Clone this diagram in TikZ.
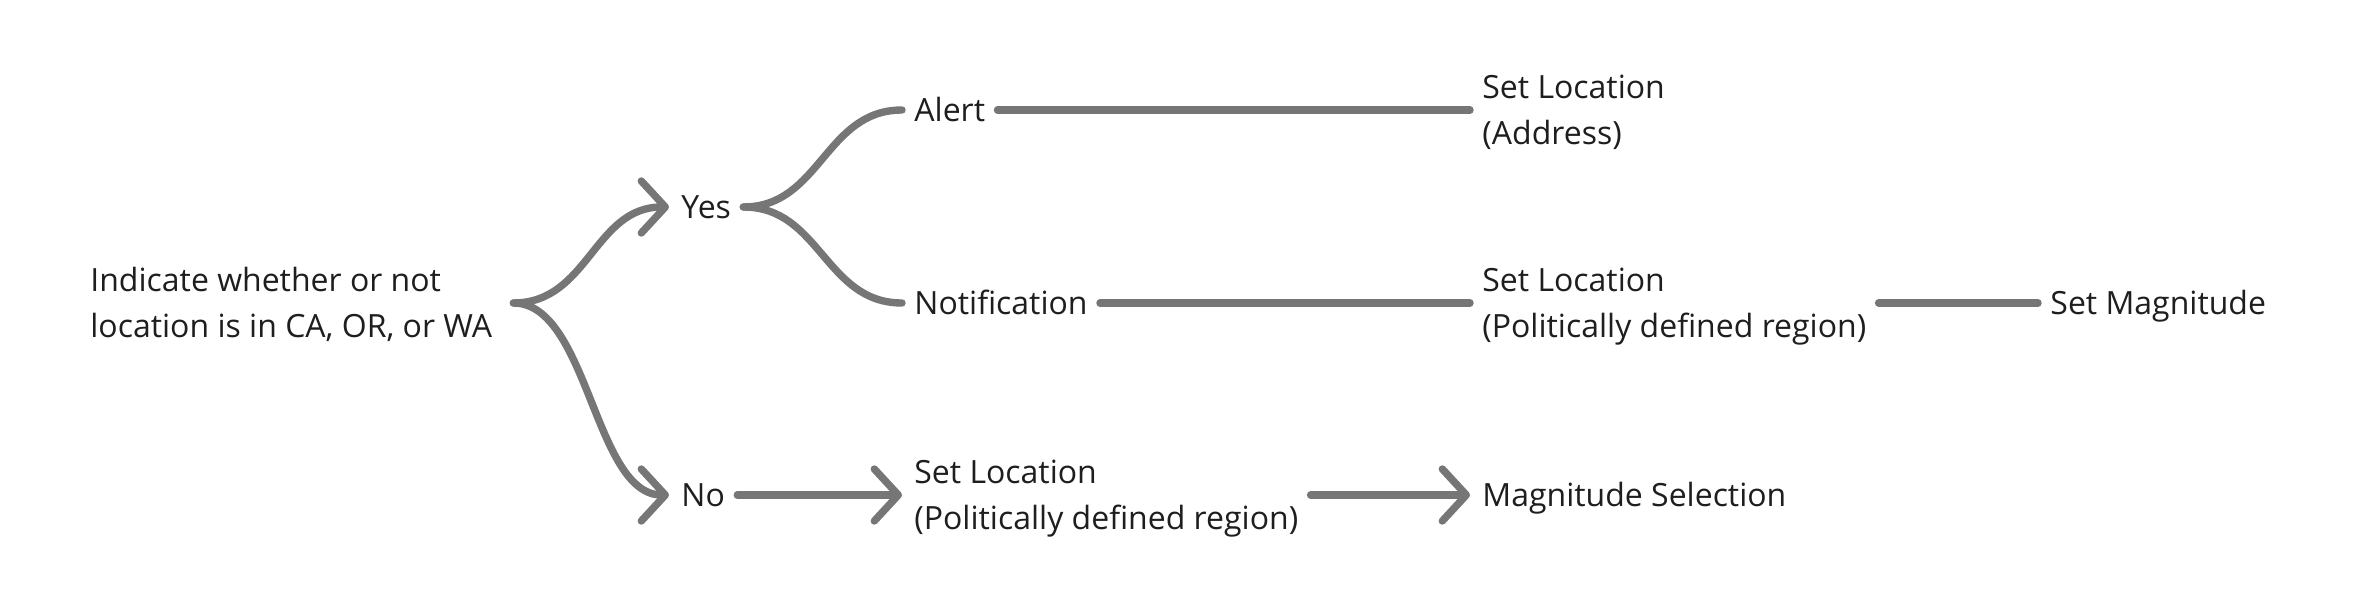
\documentclass[tikz,border=0pt]{standalone}
\usepackage{fontspec}
\setmainfont{Open Sans}
\usetikzlibrary{arrows.meta}
\definecolor{linegray}{HTML}{767676}
\definecolor{txt}{HTML}{1E1E1E}
\newcommand\mytopst{\rule{0pt}{15.3pt}}
\newcommand\mybotst{\rule[-4pt]{0pt}{4pt}}
\begin{document}
\begin{tikzpicture}[x=0.5pt,y=-0.5pt,
  lbl/.style={anchor=west, inner xsep=6pt, inner ysep=0pt, align=left, text=txt,
    font=\fontsize{16pt}{23.3pt}\selectfont},
  one/.style={lbl, text height=11.4pt, text depth=0pt},
  conn/.style={draw=linegray, line width=3.7pt, line cap=round, line join=round},
  tip/.style={-{Straight Barb[length=12pt,width=26pt,round]}}
]
\useasboundingbox (0,0) rectangle (2364,615);
\node[lbl] (root) at (78,303) {\mytopst Indicate whether or not\\location is in CA, OR, or WA\mybotst};
\node[one] (yes) at (669,207) {Yes};
\node[one] (no) at (669,495) {No};
\node[one] (alert) at (902,110) {Alert};
\node[one] (notif) at (902,303) {Notification};
\node[lbl] (setaddr) at (1470,110) {\mytopst Set Location\\(Address)\mybotst};
\node[lbl] (setpol) at (1470,303) {\mytopst Set Location\\(Politically defined region)\mybotst};
\node[one] (setmag) at (2038,303) {Set Magnitude};
\node[lbl] (setpolb) at (902,495) {\mytopst Set Location\\(Politically defined region)\mybotst};
\node[one] (magsel) at (1470,495) {Magnitude Selection};
\coordinate (rt) at ([xshift=4.5pt]root.east);
\draw[conn,tip] (rt) .. controls +(75,0) and +(-75,0) .. (yes.west);
\draw[conn,tip] (rt) .. controls +(75,0) and +(-75,0) .. (no.west);
\draw[conn] (yes.east) .. controls +(77,0) and +(-77,0) .. (alert.west);
\draw[conn] (yes.east) .. controls +(77,0) and +(-77,0) .. (notif.west);
\draw[conn] (alert.east) -- (alert.east -| setaddr.west);
\draw[conn] (notif.east) -- (notif.east -| setpol.west);
\draw[conn] (setpol.east |- setmag.west) -- (setmag.west);
\draw[conn,tip] (no.east) -- (no.east -| setpolb.west);
\draw[conn,tip] (setpolb.east |- magsel.west) -- (magsel.west);
\end{tikzpicture}
\end{document}
